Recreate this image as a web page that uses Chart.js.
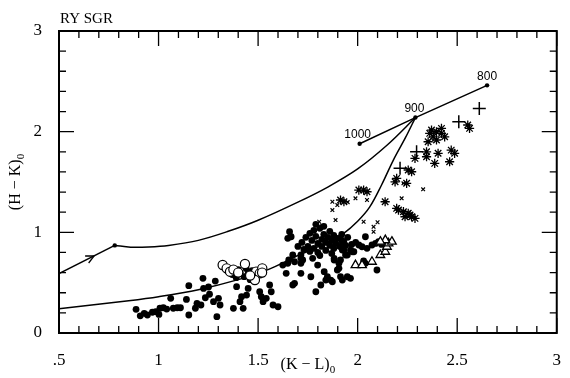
<!DOCTYPE html>
<html>
<head>
<meta charset="utf-8">
<script src="https://cdn.jsdelivr.net/npm/chart.js@4.4.1/dist/chart.umd.min.js"></script>
<style>
  html, body { margin: 0; padding: 0; background: #fff; }
  #wrap { width: 570px; height: 378px; }
</style>
</head>
<body>
<div id="wrap"><canvas id="cmd"></canvas></div>
<script>
// tick labels
const xTickLabels = [".5", "1", "1.5", "2", "2.5", "3"];
const yTickLabels = ["0", "1", "2", "3"];

// model curves
const upperStart = [[0.5, 0.59], [0.78, 0.87]];
const upperCurve = [[0.78, 0.87], [0.86, 0.853], [0.95, 0.855], [1.05, 0.87], [1.2, 0.92], [1.35, 1.01],
  [1.5, 1.12], [1.7, 1.3], [1.85, 1.45], [2.0, 1.63], [2.15, 1.87], [2.29, 2.14]];
const lowerCurve = [[0.5, 0.24], [0.85, 0.32], [1.0, 0.36], [1.2, 0.43], [1.4, 0.53], [1.55, 0.63],
  [1.7, 0.77], [1.85, 0.9], [1.93, 0.99], [2.0, 1.11], [2.06, 1.25], [2.12, 1.47], [2.18, 1.72],
  [2.24, 1.94], [2.29, 2.14]];
const tempLine = [[2.01, 1.88], [2.29, 2.14], [2.65, 2.46]];
const tempLabels = ["1000", "900", "800"];

// observations
const filled = [
  [0.887, 0.235], [0.908, 0.171], [0.928, 0.195], [0.944, 0.179], [0.969, 0.206], [0.986, 0.212],
  [1.002, 0.185], [1.007, 0.246], [1.024, 0.251], [1.041, 0.238], [1.061, 0.344], [1.074, 0.246],
  [1.094, 0.251], [1.11, 0.251], [1.14, 0.334], [1.152, 0.179], [1.152, 0.47], [1.185, 0.246],
  [1.193, 0.295], [1.213, 0.278], [1.223, 0.543], [1.226, 0.443], [1.235, 0.35], [1.251, 0.457],
  [1.256, 0.385], [1.276, 0.311], [1.285, 0.516], [1.301, 0.344], [1.293, 0.162],
  [1.309, 0.278], [1.376, 0.245], [1.392, 0.46], [1.409, 0.311], [1.417, 0.36], [1.425, 0.245],
  [1.442, 0.377], [1.45, 0.443], [1.508, 0.41], [1.516, 0.36], [1.525, 0.311], [1.541, 0.344],
  [1.558, 0.477], [1.566, 0.41], [1.575, 0.278], [1.6, 0.261], [1.624, 0.675], [1.641, 0.593],
  [1.654, 0.725], [1.674, 0.775], [1.683, 0.493], [1.715, 0.593], [1.715, 0.775], [1.715, 0.692],
  [1.658, 1.006], [1.666, 0.956], [1.649, 0.94], [1.683, 0.708], [1.715, 0.742], [1.774, 0.742],
  [1.799, 0.675], [1.765, 0.559], [1.832, 0.609], [1.848, 0.559], [1.865, 0.526], [1.882, 0.725],
  [1.906, 0.692], [1.914, 0.559], [1.931, 0.824], [1.939, 0.775], [1.973, 0.807], [1.964, 0.543],
  [1.674, 0.477], [1.815, 0.477], [1.649, 0.692], [1.724, 0.725], [1.79, 0.41], [1.84, 0.526],
  [1.873, 0.509], [1.906, 0.642], [1.923, 0.526], [1.914, 0.725], [1.948, 0.775],
  [1.914, 0.94], [1.923, 0.907], [1.923, 0.824], [1.964, 0.824], [1.981, 0.807], [2.006, 0.874],
  [2.022, 0.857], [2.039, 0.956], [2.047, 0.841], [2.072, 0.874], [2.105, 0.907], [2.09, 0.89],
  [2.12, 0.88], [1.882, 0.742], [1.898, 0.626], [1.948, 0.559], [2.097, 0.626], [2.039, 0.692],
  [2.03, 0.715],
  [1.37, 0.58], [1.39, 0.55], [1.41, 0.6], [1.43, 0.56], [1.45, 0.59], [1.46, 0.53], [1.47, 0.62],
  [1.4, 0.63], [1.44, 0.64], [1.49, 0.57], [1.35, 0.61],
  [1.72, 0.9], [1.74, 0.95], [1.75, 0.86], [1.76, 0.99], [1.77, 0.92], [1.78, 0.84], [1.78, 1.02],
  [1.79, 0.96], [1.8, 0.89], [1.8, 0.8], [1.81, 1.04], [1.82, 0.93], [1.82, 0.86], [1.83, 0.98],
  [1.84, 0.9], [1.84, 0.82], [1.85, 0.95], [1.86, 1.01], [1.86, 0.87], [1.87, 0.92], [1.88, 0.84],
  [1.88, 0.97], [1.89, 0.89], [1.9, 0.94], [1.91, 0.86], [1.92, 0.98], [1.93, 0.91], [1.94, 0.87],
  [1.76, 0.81], [1.73, 0.83], [1.7, 0.86], [1.95, 0.95], [1.97, 0.88], [1.99, 0.9], [1.83, 1.06],
  [1.79, 1.08], [1.87, 0.79], [1.81, 0.77]
];
const openCircles = [[1.322, 0.675], [1.342, 0.642], [1.359, 0.609], [1.376, 0.63], [1.434, 0.685],
  [1.49, 0.61], [1.508, 0.593], [1.521, 0.642], [1.484, 0.526], [1.4, 0.6], [1.46, 0.57], [1.52, 0.6]];
const triangles = [[1.989, 0.675], [2.022, 0.675], [2.072, 0.708], [2.114, 0.775], [2.139, 0.807],
  [2.147, 0.857], [2.155, 0.891], [2.172, 0.907], [2.139, 0.923], [2.114, 0.907]];
const smallCrosses = [[1.873, 1.304], [1.873, 1.221], [1.898, 1.271], [1.889, 1.122], [1.807, 1.105],
  [1.82, 1.06], [2.03, 1.105], [2.08, 1.055], [2.08, 1.006], [1.989, 1.338], [2.047, 1.321],
  [2.221, 1.338], [2.329, 1.427], [2.23, 1.487], [1.95, 1.3], [2.1, 1.1]];
const asterisks = [[2.006, 1.42], [2.03, 1.42], [2.047, 1.403], [1.914, 1.321], [1.931, 1.304],
  [2.138, 1.304], [2.196, 1.536], [2.271, 1.602], [2.254, 1.619], [2.188, 1.502], [2.246, 1.487],
  [2.205, 1.221], [2.254, 1.189], [2.271, 1.155], [2.288, 1.139], [2.238, 1.155], [2.288, 1.735],
  [2.346, 1.8], [2.346, 1.751], [2.404, 1.785], [2.387, 1.685], [2.47, 1.817], [2.487, 1.785],
  [2.462, 1.701], [2.362, 1.983], [2.379, 1.949], [2.396, 1.999], [2.421, 2.033], [2.421, 1.983],
  [2.437, 1.949], [2.354, 1.9], [2.396, 1.917], [2.371, 2.016], [2.553, 2.066], [2.562, 2.033],
  [2.196, 1.238], [2.23, 1.205], [2.263, 1.172]];
const plusses = [[2.611, 2.231], [2.508, 2.098], [2.296, 1.8], [2.213, 1.636]];

const pts = arr => arr.map(p => ({ x: p[0], y: p[1] }));

function line(data, tension) {
  return {
    data: pts(data), showLine: true, borderColor: "#000", borderWidth: 1.5,
    pointRadius: 0, tension: tension, fill: false, order: 10
  };
}

function marks(data, style, radius, bg, bw, order) {
  return {
    data: pts(data), showLine: false, pointStyle: style, pointRadius: radius,
    backgroundColor: bg, borderColor: "#000", borderWidth: bw, order: order
  };
}

const frame = {
  id: "frame",
  afterDatasetsDraw(chart) {
    const { ctx, chartArea: a, scales: { x, y } } = chart;
    ctx.save();
    ctx.strokeStyle = "#000";
    ctx.lineWidth = 2;
    ctx.strokeRect(a.left, a.top, a.right - a.left, a.bottom - a.top);
    ctx.lineWidth = 1.3;
    ctx.beginPath();
    for (let i = 5; i <= 30; i++) {
      const px = x.getPixelForValue(i / 10);
      const len = i % 5 === 0 ? 15 : 7;
      ctx.moveTo(px, a.bottom); ctx.lineTo(px, a.bottom - len);
      ctx.moveTo(px, a.top); ctx.lineTo(px, a.top + len);
    }
    for (let i = 0; i <= 15; i++) {
      const py = y.getPixelForValue(i / 5);
      const len = i % 5 === 0 ? 15 : 7;
      ctx.moveTo(a.left, py); ctx.lineTo(a.left + len, py);
      ctx.moveTo(a.right, py); ctx.lineTo(a.right - len, py);
    }
    ctx.stroke();

    // small dots on the model curves
    ctx.fillStyle = "#000";
    [upperStart[1]].concat(tempLine).forEach(p => {
      ctx.beginPath();
      ctx.arc(x.getPixelForValue(p[0]), y.getPixelForValue(p[1]), 2.2, 0, Math.PI * 2);
      ctx.fill();
    });

    // arrow on the first segment
    const x0 = x.getPixelForValue(upperStart[0][0]), y0 = y.getPixelForValue(upperStart[0][1]);
    const x1 = x.getPixelForValue(upperStart[1][0]), y1 = y.getPixelForValue(upperStart[1][1]);
    const tx = x0 + (x1 - x0) * 0.63, ty = y0 + (y1 - y0) * 0.63;
    const ang = Math.atan2(y1 - y0, x1 - x0);
    ctx.lineWidth = 1.3;
    ctx.beginPath();
    ctx.moveTo(tx - 9 * Math.cos(ang - 0.45), ty - 9 * Math.sin(ang - 0.45));
    ctx.lineTo(tx, ty);
    ctx.lineTo(tx - 9 * Math.cos(ang + 0.45), ty - 9 * Math.sin(ang + 0.45));
    ctx.stroke();

    // temperature labels
    ctx.font = "12px 'Liberation Sans', Arial, sans-serif";
    ctx.textAlign = "center";
    ctx.textBaseline = "alphabetic";
    const offs = [[-2, -6], [-1, -6], [0, -5]];
    tempLine.forEach((p, i) => {
      ctx.fillText(tempLabels[i], x.getPixelForValue(p[0]) + offs[i][0], y.getPixelForValue(p[1]) + offs[i][1]);
    });

    // star name
    ctx.font = "15px 'Liberation Serif', 'DejaVu Serif', serif";
    ctx.textAlign = "left";
    ctx.fillText("RY SGR", a.left + 1, a.top - 8);

    // axis titles with subscript
    const sub = (main, cx, cy) => {
      ctx.font = "16px 'Liberation Serif', 'DejaVu Serif', serif";
      const w1 = ctx.measureText(main).width;
      ctx.font = "11px 'Liberation Serif', 'DejaVu Serif', serif";
      const w2 = ctx.measureText("0").width;
      const start = cx - (w1 + w2) / 2;
      ctx.textAlign = "left";
      ctx.font = "16px 'Liberation Serif', 'DejaVu Serif', serif";
      ctx.fillText(main, start, cy);
      ctx.font = "11px 'Liberation Serif', 'DejaVu Serif', serif";
      ctx.fillText("0", start + w1, cy + 4);
    };
    sub("(K \u2212 L)", (a.left + a.right) / 2, 369);
    ctx.translate(20, (a.top + a.bottom) / 2);
    ctx.rotate(-Math.PI / 2);
    sub("(H \u2212 K)", 0, 0);
    ctx.restore();
  }
};

new Chart(document.getElementById("cmd"), {
  type: "scatter",
  data: {
    datasets: [
      line(upperStart, 0),
      line(upperCurve, 0.35),
      line(lowerCurve, 0.35),
      line(tempLine, 0),
      marks(filled, "circle", 3.4, "#000", 0, 5),
      marks(openCircles, "circle", 4.6, "#fff", 1.2, 4),
      marks(triangles, "triangle", 5, "#fff", 1.3, 4),
      marks(smallCrosses, "crossRot", 2.6, "#000", 1.2, 3),
      marks(asterisks, "star", 4.6, "#000", 1.3, 3),
      marks(plusses, "cross", 6.5, "#000", 1.5, 3)
    ]
  },
  options: {
    responsive: true,
    maintainAspectRatio: false,
    animation: false,
    layout: { padding: { top: 31, right: 8, left: 0, bottom: 0 } },
    plugins: { legend: { display: false }, tooltip: { enabled: false } },
    scales: {
      x: {
        type: "linear", min: 0.5, max: 3,
        grid: { display: false }, border: { display: false },
        afterFit: s => { s.height = 45; },
        ticks: {
          stepSize: 0.5, padding: 9, color: "#000",
          font: { family: "'Liberation Serif', serif", size: 17 },
          callback: (v) => xTickLabels[Math.round((v - 0.5) * 2)]
        }
      },
      y: {
        type: "linear", min: 0, max: 3,
        grid: { display: false }, border: { display: false },
        afterFit: s => { s.width = 59; },
        ticks: {
          stepSize: 1, padding: 9, color: "#000",
          font: { family: "'Liberation Serif', serif", size: 17 },
          callback: (v) => yTickLabels[Math.round(v)]
        }
      }
    }
  },
  plugins: [frame]
});
</script>
</body>
</html>
